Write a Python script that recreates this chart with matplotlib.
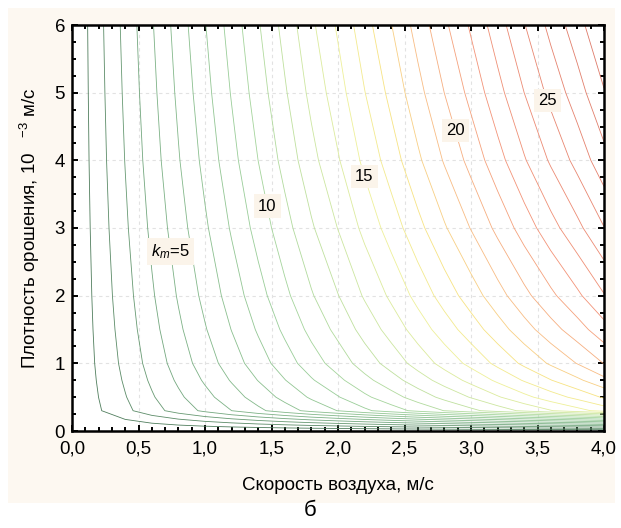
import numpy as np
import matplotlib
matplotlib.use("Agg")
import matplotlib.pyplot as plt
from matplotlib.colors import LinearSegmentedColormap
from matplotlib.patches import Rectangle
from matplotlib.ticker import MultipleLocator, FuncFormatter

plt.rcParams['font.family'] = ['Liberation Sans', 'DejaVu Sans']
plt.rcParams['mathtext.fontset'] = 'custom'
plt.rcParams['mathtext.rm'] = 'Liberation Sans'
plt.rcParams['mathtext.it'] = 'Liberation Sans:italic'

# air speed nodes (m/s) and k_m read along the top edge (density = 6)
speed = [0.0, 0.2, 0.4, 0.6, 0.8, 1.0, 1.2, 1.4, 1.6, 1.8, 2.0,
         2.2, 2.4, 2.6, 2.8, 3.0, 3.2, 3.4, 3.6, 3.8, 4.0]
km_top = [0.0, 1.7, 3.3, 4.9, 6.45, 7.95, 9.43, 10.9, 12.35, 13.8, 15.15,
          16.6, 17.97, 19.4, 20.8, 22.15, 23.55, 24.95, 26.3, 27.6, 29.03]
# irrigation density nodes (10^-3 m/s) and relative factor of k_m
density = [0.0, 0.3, 0.5, 0.75, 1.0, 1.5, 2.0, 3.0, 4.0, 5.0, 6.0]
density_factor = [0.0, 0.53, 0.59, 0.645, 0.69, 0.745, 0.79, 0.86, 0.918, 0.962, 1.0]

levels = list(range(1, 30))
label_levels = [5, 10, 15, 20, 25]
label_text = {5: '$k_m$=5', 10: '10', 15: '15', 20: '20', 25: '25'}

km = np.outer(density_factor, km_top)

cmap = LinearSegmentedColormap.from_list('gyr', [
    (0.0, '#4f7d5c'), (0.12, '#78ad82'), (0.3, '#9cd09a'),
    (0.43, '#cde6a0'), (0.5, '#eef09a'), (0.57, '#f7e483'),
    (0.64, '#f8bd84'), (0.75, '#f39378'), (1.0, '#da7666')])

fig = plt.figure(figsize=(6.21, 5.28), dpi=100)
fig.patches.append(Rectangle((8 / 621, 25 / 528), 607 / 621, 495 / 528,
                             transform=fig.transFigure, facecolor='#fdf8f1',
                             edgecolor='none', zorder=-10))
ax = fig.add_axes([72 / 621, 97 / 528, 532 / 621, 406 / 528])
ax.set_facecolor('white')

cs = ax.contour(speed, density, km, levels=levels, cmap=cmap,
                vmin=1, vmax=29, linewidths=0.6)

# separate invisible set just for the labels
cs_lab = ax.contour(speed, density, km, levels=label_levels, colors='none')
texts = ax.clabel(cs_lab, inline=False, fontsize=12, colors='black',
                  fmt=label_text,
                  manual=[(0.71, 2.64), (1.43, 3.31), (2.19, 3.76),
                          (2.9, 4.45), (3.6, 4.9)])
for t in texts:
    t.set_rotation(0)
    t.set_color('black')
    t.set_bbox(dict(facecolor='#fbf4ea', edgecolor='none', pad=3))

ax.set_xlim(0, 4)
ax.set_ylim(0, 6)
ax.xaxis.set_major_locator(MultipleLocator(0.5))
ax.xaxis.set_minor_locator(MultipleLocator(0.1))
ax.yaxis.set_major_locator(MultipleLocator(1))
ax.yaxis.set_minor_locator(MultipleLocator(0.25))
ax.xaxis.set_major_formatter(FuncFormatter(lambda v, p: f'{v:.1f}'.replace('.', ',')))
ax.yaxis.set_major_formatter(FuncFormatter(lambda v, p: f'{v:.0f}'))
ax.tick_params(which='both', direction='in', top=True, right=True,
               labelsize=13.5, width=1.4)
ax.tick_params(which='major', length=4)
ax.tick_params(which='minor', length=3)
ax.tick_params(axis='x', pad=7)
ax.tick_params(axis='y', pad=5)
ax.grid(True, which='major', linestyle=(0, (3, 3)), color='#e2e2e2', linewidth=0.8)
for s in ax.spines.values():
    s.set_linewidth(1.8)

ax.set_xlabel('Скорость воздуха, м/с', fontsize=13.5, labelpad=14)
ax.set_ylabel('Плотность орошения, 10   $^{-3}$ м/с', fontsize=13.5, labelpad=9)

fig.text(0.5, 17 / 528, 'б', ha='center', va='center', fontsize=16)

fig.savefig('out.png', dpi=100)
